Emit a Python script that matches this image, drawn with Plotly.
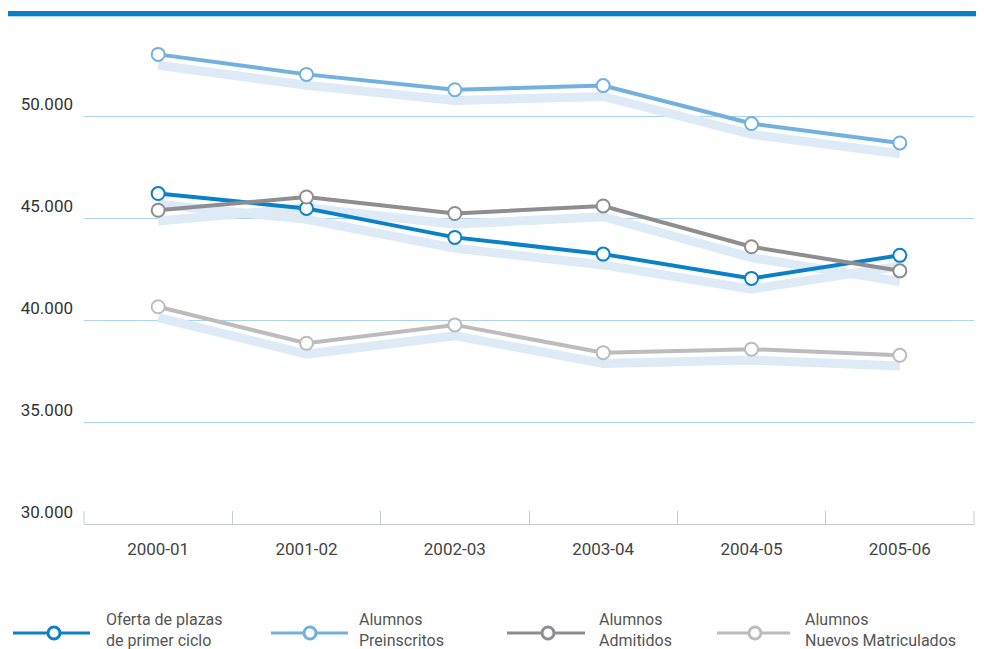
import plotly.graph_objects as go

categories = ["2000-01", "2001-02", "2002-03", "2003-04", "2004-05", "2005-06"]
oferta = [46200, 45470, 44050, 43230, 42040, 43170]
preinscritos = [53020, 52040, 51290, 51490, 49630, 48680]
admitidos = [45380, 46030, 45220, 45590, 43590, 42410]
matriculados = [40650, 38860, 39760, 38400, 38570, 38270]
y_tickvals = [30000, 35000, 40000, 45000, 50000]
y_ticktext = ["30.000", "35.000", "40.000", "45.000", "50.000"]

series = [
    ("Oferta de plazas", "de primer ciclo", oferta, "#0a80c6"),
    ("Alumnos", "Preinscritos", preinscritos, "#72b0de"),
    ("Alumnos", "Admitidos", admitidos, "#8e8e90"),
    ("Alumnos", "Nuevos Matriculados", matriculados, "#bcbcbe"),
]

SHADOW = "#deeaf6"
SHADOW_OFFSET = 530  # data units (~11px down)
AXIS_COL = "#c5ccd4"

# the page body has an 8px margin; work in screen pixels and convert
OFF = 8
W, H = 984 - OFF, 649 - OFF
ML, MR, MT, MB = 84 - OFF, 10, 14 - OFF, 125
PW = W - ML - MR
PH = H - MT - MB


def px(x):
    return (x - OFF - ML) / PW


def py(y):
    return (H - MB - (y - OFF)) / PH


fig = go.Figure()

# shadows
for l1, l2, vals, col in series:
    fig.add_trace(go.Scatter(
        x=categories, y=[v - SHADOW_OFFSET for v in vals], mode="lines",
        line=dict(color=SHADOW, width=9), hoverinfo="skip", showlegend=False))

draw_order = [1, 0, 2, 3]
for i in draw_order:
    l1, l2, vals, col = series[i]
    fig.add_trace(go.Scatter(
        x=categories, y=vals, mode="lines+markers", name=l1 + " " + l2,
        line=dict(color=col, width=4),
        marker=dict(size=13, color="white", line=dict(color=col, width=2)),
        showlegend=False))

shapes = []
# top bar
shapes.append(dict(type="rect", xref="paper", yref="paper",
                   x0=px(0), x1=px(984), y0=py(16), y1=py(11),
                   fillcolor="#0a80c6", line=dict(width=0), layer="above"))
shapes.append(dict(type="rect", xref="paper", yref="paper",
                   x0=px(0), x1=px(984), y0=py(17), y1=py(16),
                   fillcolor="#b9d9f0", line=dict(width=0), layer="above"))
# end ticks of the category axis
for xe in (0, 1):
    shapes.append(dict(type="line", xref="paper", yref="paper",
                       x0=xe, x1=xe, y0=0, y1=13 / PH,
                       line=dict(color=AXIS_COL, width=1)))

annotations = []
legend_items = [
    (13, 90, 54, 104),
    (271, 348, 310, 357),
    (507, 585, 548, 597),
    (717, 790, 755, 803),
]
ly = 633
for (x0, x1, cx, tx), (l1, l2, vals, col) in zip(legend_items, series):
    shapes.append(dict(type="line", xref="paper", yref="paper",
                       x0=px(x0), x1=px(x1), y0=py(ly), y1=py(ly),
                       line=dict(color=col, width=3)))
    r = 6
    shapes.append(dict(type="circle", xref="paper", yref="paper",
                       x0=px(cx - r), x1=px(cx + r), y0=py(ly + r), y1=py(ly - r),
                       fillcolor="white", line=dict(color=col, width=3)))
    annotations.append(dict(text=l1 + "<br>" + l2, xref="paper", yref="paper",
                            x=px(tx), y=py(630), xanchor="left", yanchor="middle",
                            align="left", showarrow=False,
                            font=dict(family="Roboto", size=16, color="#555555")))

fig.update_layout(
    width=W, height=H,
    margin=dict(l=ML, r=MR, t=MT, b=MB),
    paper_bgcolor="white", plot_bgcolor="white",
    showlegend=False,
    shapes=shapes, annotations=annotations,
    font=dict(family="Roboto", size=16, color="#444444"),
    xaxis=dict(
        type="category", range=[-0.5, 5.5],
        showgrid=False, zeroline=False,
        showline=True, linecolor=AXIS_COL, linewidth=1,
        ticks="inside", tickson="boundaries", ticklen=13, tickcolor=AXIS_COL,
        tickfont=dict(family="Roboto", size=17, color="#444444"),
        ticklabelstandoff=10,
    ),
    yaxis=dict(
        range=[30000, 55000],
        tickvals=y_tickvals, ticktext=y_ticktext,
        showgrid=True, gridcolor="#acd3f0", gridwidth=1,
        zeroline=False, showline=False,
        ticklabelposition="outside top",
        tickfont=dict(family="Roboto", size=17, color="#333333"),
        ticks="", ticklabelstandoff=10,
    ),
)

fig.write_html("out.html")
